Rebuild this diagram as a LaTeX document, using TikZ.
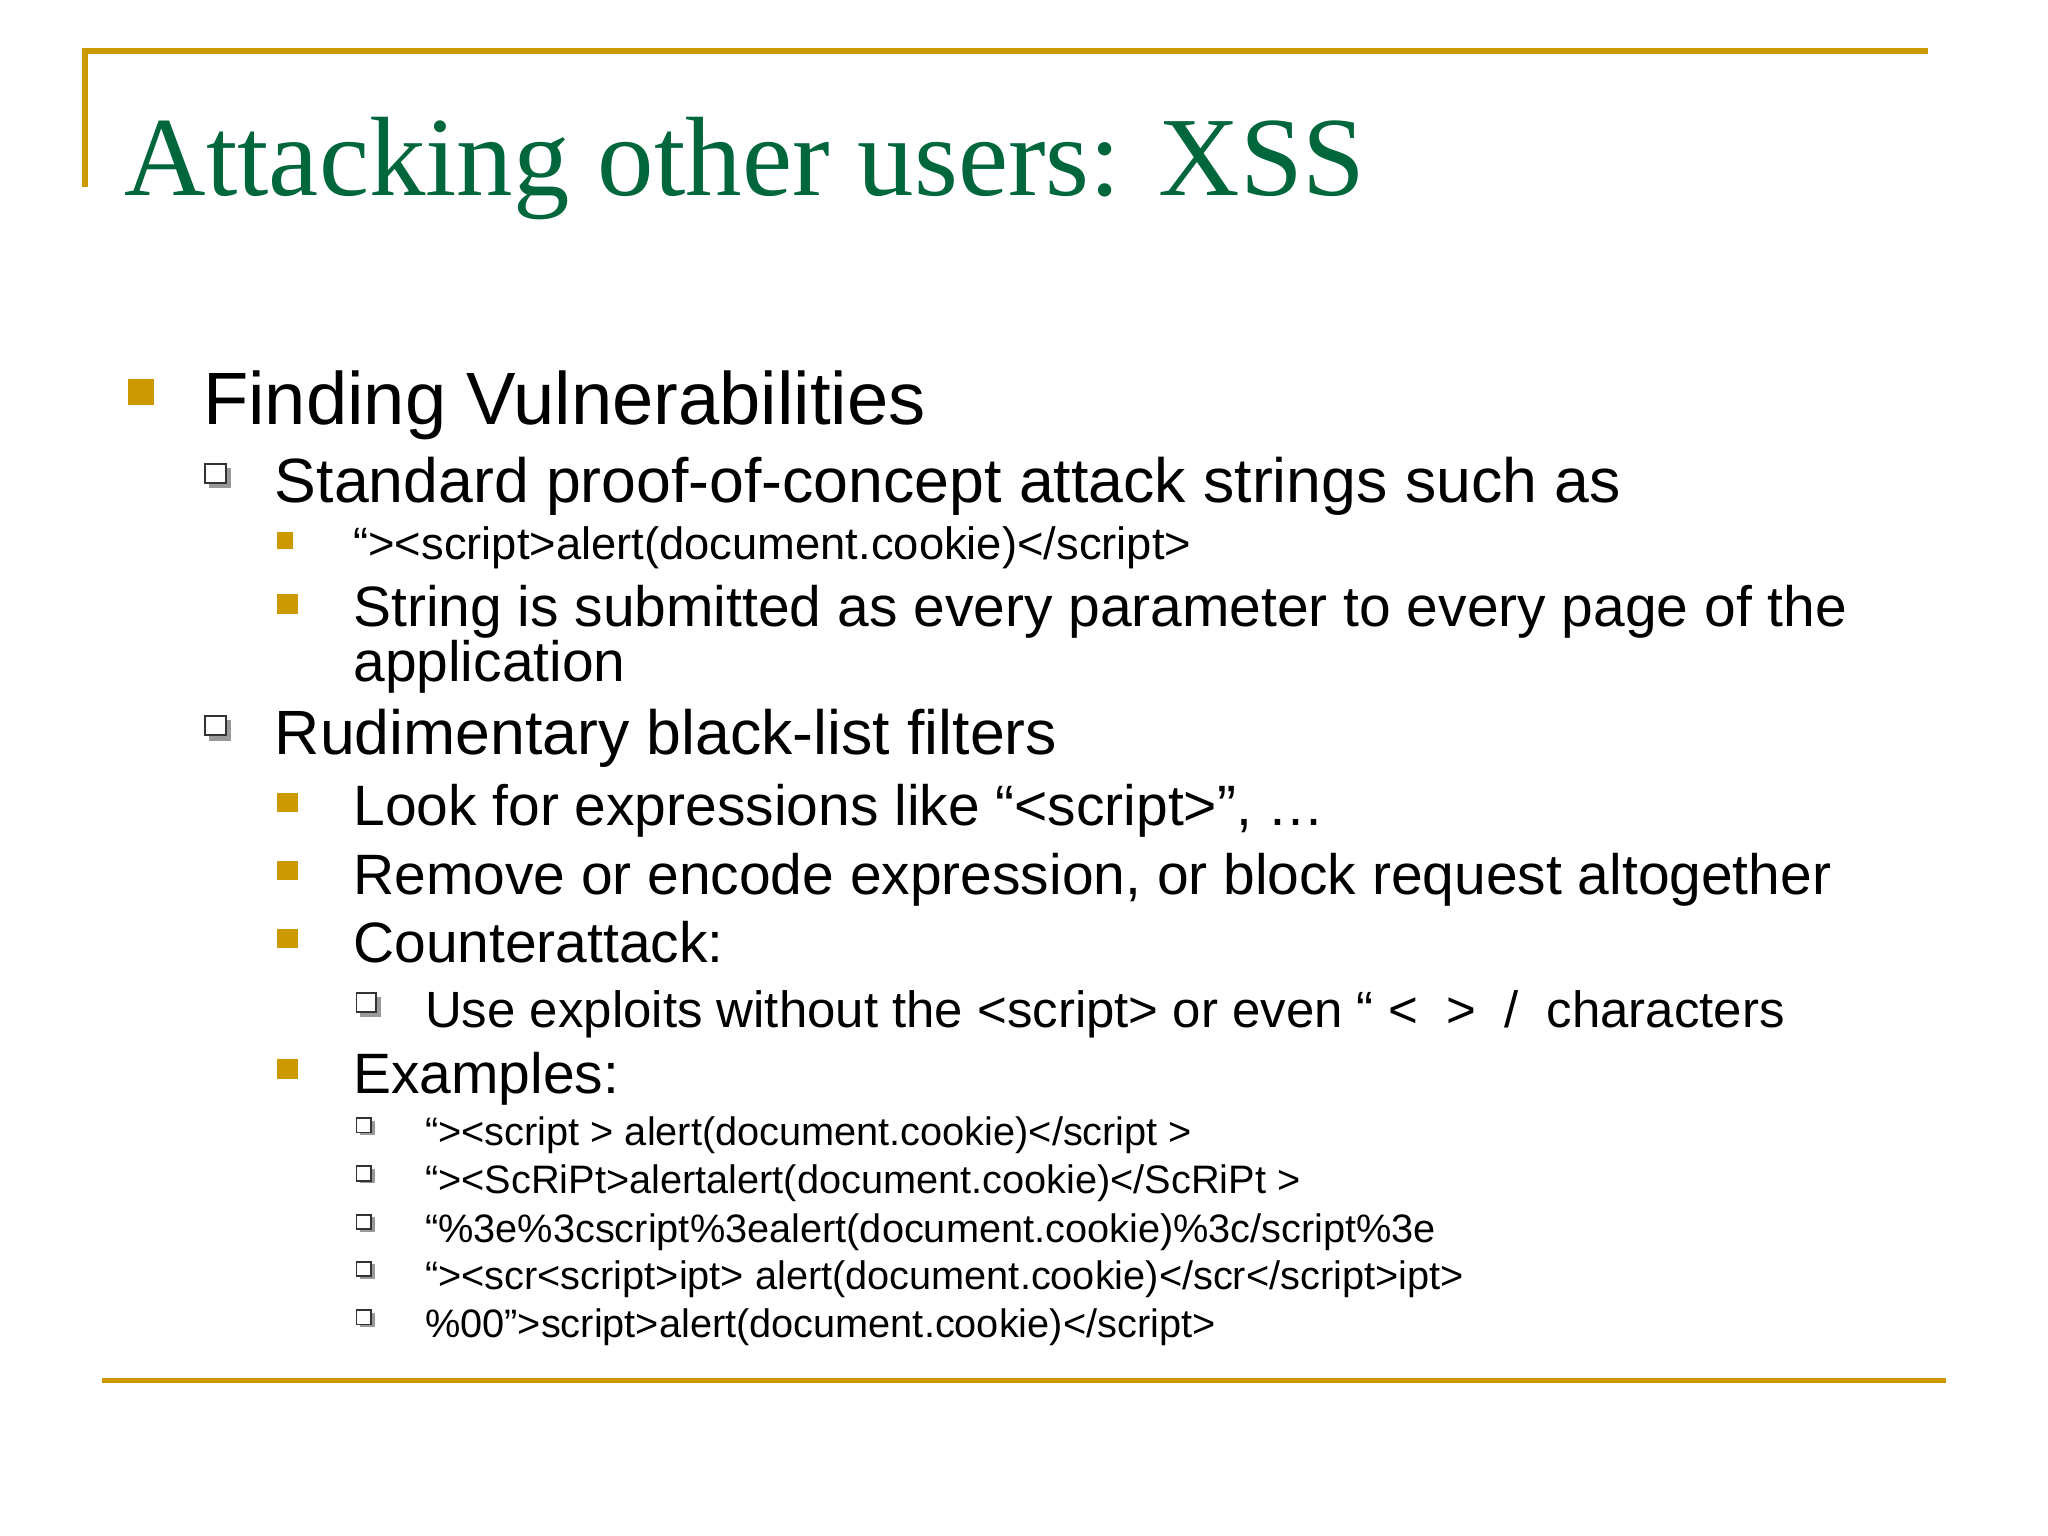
\documentclass[tikz,border=0pt]{standalone}
\usepackage{fontspec}
\setmainfont{Liberation Sans}
\newfontfamily\titlefont{Liberation Serif}
\definecolor{gold}{RGB}{204,153,0}
\definecolor{tgreen}{RGB}{0,102,60}
\begin{document}
\begin{tikzpicture}[x=0.013061cm,y=-0.013061cm,
  txt/.style={anchor=base west,inner sep=0pt,text=black},
  lone/.style={txt,font=\fontsize{21.1}{25}\selectfont},
  ltwo/.style={txt,font=\fontsize{17.8}{21}\selectfont},
  lthree/.style={txt,font=\fontsize{16.2}{19}\selectfont},
  lsmall/.style={txt,font=\fontsize{12.9}{15}\selectfont},
  lex/.style={txt,font=\fontsize{11.3}{13}\selectfont},
  lfour/.style={txt,font=\fontsize{14.5}{17}\selectfont},
  fb/.style={fill=gold},
  hb/.style={draw=black!80,line width=0.5pt,fill=white}]
\useasboundingbox (0,0) rectangle (1568,1176);
\fill[white] (0,0) rectangle (1568,1176);
\coordinate (tl) at (65,143); \coordinate (tc) at (65,39); \coordinate (tr) at (1476,39);
\draw[gold,line width=1.5pt] (tl) -- (tc) -- (tr);
\coordinate (bl) at (78,1057); \coordinate (br) at (1490,1057);
\draw[gold,line width=1.5pt] (bl) -- (br);
\node[anchor=base west,inner sep=0pt,text=tgreen,font=\titlefont\fontsize{32.1}{38}\selectfont] (title) at (95,150) {Attacking other users: XSS};
\fill[fb] (98,290) rectangle (118,310);
\node[lone] (n1) at (155,325) {Finding Vulnerabilities};
\foreach \y in {355,548}{\fill[black!40] (160,\y+3) rectangle (177,\y+19);\filldraw[hb] (157,\y) rectangle (173,\y+15);}
\node[ltwo] (n2) at (210,385) {Standard proof-of-concept attack strings such as};
\fill[fb] (212,407) rectangle (224,420);
\node[lsmall] (n3) at (270,428) {“><script>alert(document.cookie)</script>};
\fill[fb] (212,455) rectangle (228,470);
\node[lthree] (n4) at (270,480) {String is submitted as every parameter to every page of the};
\node[lthree] (n4b) at (270,522) {application};
\node[ltwo] (n5) at (210,578) {Rudimentary black-list filters};
\foreach \y in {607,659,711,811}{\fill[fb] (212,\y) rectangle (228,\y+15);}
\node[lthree] (n6) at (270,632) {Look for expressions like “<script>”, …};
\node[lthree] (n7) at (270,685) {Remove or encode expression, or block request altogether};
\node[lthree] (n8) at (270,737) {Counterattack:};
\fill[black!40] (276,763) rectangle (292,779);\filldraw[hb] (273,760) rectangle (288,775);
\node[lfour] (n9) at (325,787) {Use exploits without the <script> or even “ <~~>~~/~~characters};
\node[lthree] (n10) at (270,837) {Examples:};
\foreach \y in {877,914,951,987,1024}{\fill[black!40] (276,\y-19) rectangle (287,\y-8);\filldraw[hb] (273,\y-21) rectangle (284,\y-10);}
\node[lex] (e1) at (325,877) {“><script > alert(document.cookie)</script >};
\node[lex] (e2) at (325,914) {“><ScRiPt>alertalert(document.cookie)</ScRiPt >};
\node[lex] (e3) at (325,951) {“\%3e\%3cscript\%3ealert(document.cookie)\%3c/script\%3e};
\node[lex] (e4) at (325,987) {“><scr<script>ipt> alert(document.cookie)</scr</script>ipt>};
\node[lex] (e5) at (325,1024) {\%00”>script>alert(document.cookie)</script>};
\end{tikzpicture}
\end{document}
